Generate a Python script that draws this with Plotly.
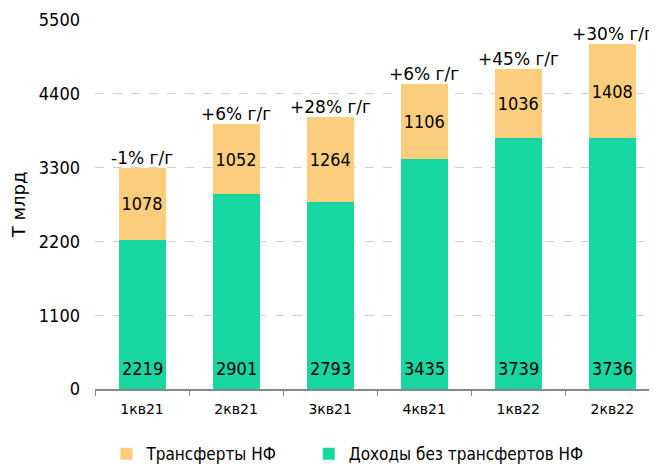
import plotly.graph_objects as go

categories = ["1кв21", "2кв21", "3кв21", "4кв21", "1кв22", "2кв22"]
income_ex_transfers = [2219, 2901, 2793, 3435, 3739, 3736]
transfers = [1078, 1052, 1264, 1106, 1036, 1408]
yoy_labels = ["-1% г/г", "+6% г/г", "+28% г/г", "+6% г/г", "+45% г/г", "+30% г/г"]
y_ticks = [0, 1100, 2200, 3300, 4400, 5500]

GREEN = "#17D6A0"
ORANGE = "#FDCD7E"
FONT = "DejaVu Sans"
FONT_C = "DejaVu Sans Condensed, DejaVu Sans"

fig = go.Figure()
fig.add_trace(go.Bar(
    x=categories, y=income_ex_transfers, name="Доходы без трансфертов НФ",
    marker=dict(color=GREEN, line=dict(width=0)),
    legend="legend2",
))
fig.add_trace(go.Bar(
    x=categories, y=transfers, name="Трансферты НФ",
    marker=dict(color=ORANGE, line=dict(width=0)),
    text=[str(v) for v in transfers], textposition="inside",
    insidetextanchor="middle", textangle=0,
    textfont=dict(family=FONT_C, size=18, color="black"),
    legend="legend",
))

# base labels for the green segment
for c, v in zip(categories, income_ex_transfers):
    fig.add_annotation(x=c, y=0, text=str(v), showarrow=False, yanchor="bottom",
                       yshift=8, font=dict(family=FONT_C, size=18, color="black"))

for c, a, b, lab in zip(categories, income_ex_transfers, transfers, yoy_labels):
    fig.add_annotation(x=c, y=a + b, text=lab, showarrow=False, yanchor="bottom",
                       yshift=-2, font=dict(family=FONT, size=17, color="black"))

legend_common = dict(orientation="h", xanchor="left", y=-0.128, yanchor="top",
                     font=dict(family=FONT_C, size=17), itemwidth=30,
                     bgcolor="rgba(0,0,0,0)")

fig.update_layout(
    width=657, height=465,
    barmode="stack", bargap=0.5,
    margin=dict(l=87, r=0, t=12, b=84, autoexpand=False),
    plot_bgcolor="white", paper_bgcolor="white",
    font=dict(family=FONT, color="black"),
    showlegend=True,
    legend=dict(x=0.02, **legend_common),
    legend2=dict(x=0.375, **legend_common),
    xaxis=dict(
        type="category", showgrid=False, showline=True, linecolor="#888888", linewidth=1.5,
        ticks="outside", tickson="boundaries", ticklen=5, tickcolor="#888888",
        tickfont=dict(family=FONT, size=14), ticklabelstandoff=6,
        range=[-0.5, 5.56], automargin=False,
    ),
    yaxis=dict(
        range=[0, 5500], tickvals=y_ticks, showgrid=True,
        gridcolor="#D0D0D0", griddash="dash", gridwidth=1, zeroline=False, showline=False,
        tickfont=dict(family=FONT_C, size=18), ticks="", ticklabelstandoff=14,
        automargin=False,
        title=dict(text="Т млрд", font=dict(family=FONT, size=18), standoff=14),
    ),
)

fig.write_html("out.html")
